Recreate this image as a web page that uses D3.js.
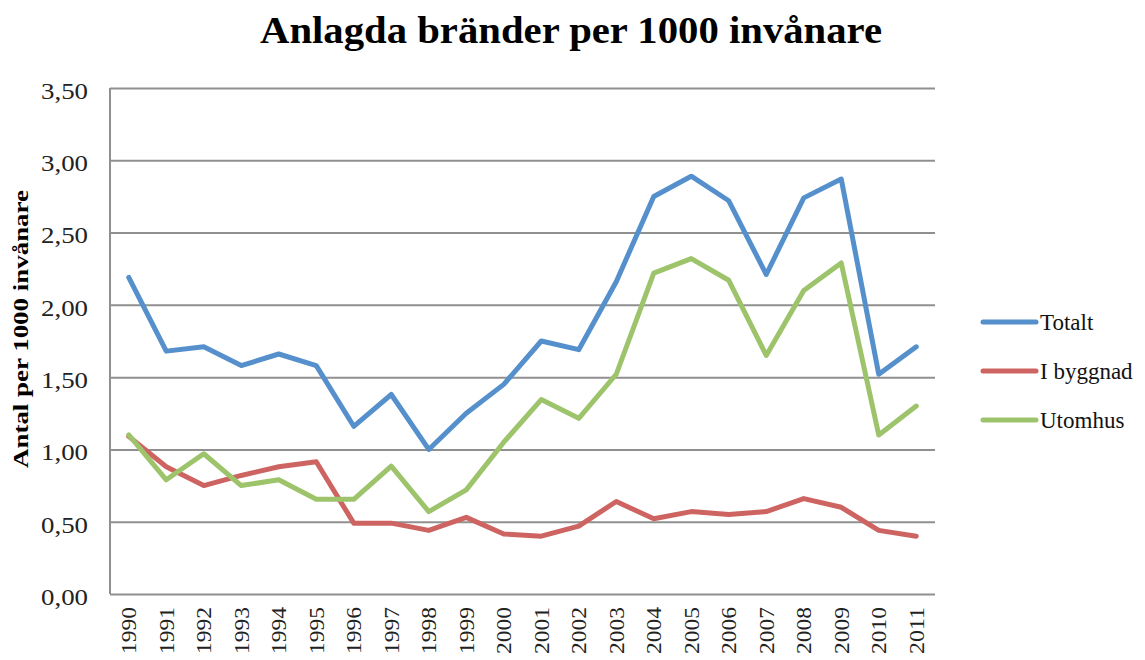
<!DOCTYPE html>
<html><head><meta charset="utf-8">
<script src="https://cdn.jsdelivr.net/npm/d3@7"></script>
<style>body{margin:0;background:#fff}svg{display:block}</style>
</head><body>
<svg id="c" width="1145" height="660"></svg>
<script>
const years = ["1990","1991","1992","1993","1994","1995","1996","1997","1998","1999","2000","2001","2002","2003","2004","2005","2006","2007","2008","2009","2010","2011"];
const totalt = [2.19,1.68,1.71,1.58,1.66,1.58,1.16,1.38,1.00,1.25,1.45,1.75,1.69,2.16,2.75,2.89,2.72,2.21,2.74,2.87,1.52,1.71];
const iByggnad = [1.09,0.88,0.75,0.82,0.88,0.915,0.49,0.49,0.44,0.53,0.415,0.40,0.47,0.64,0.52,0.57,0.55,0.57,0.66,0.60,0.44,0.40];
const utomhus = [1.10,0.79,0.97,0.75,0.79,0.655,0.655,0.885,0.57,0.72,1.05,1.345,1.215,1.52,2.22,2.32,2.17,1.65,2.10,2.29,1.10,1.30];
const yTicks = [0,0.5,1,1.5,2,2.5,3,3.5];
const seriesNames = ["Totalt","I byggnad","Utomhus"];
const seriesColors = ["#5590CC","#CE6461","#9DC36B"];
const seriesData = [totalt, iByggnad, utomhus];

const svg = d3.select("#c");
const L=110,R=935,T=88,B=594;
const font = "'Liberation Serif', 'DejaVu Serif', serif";
const x = d3.scaleBand().domain(years).range([L,R]);
const y = d3.scaleLinear().domain([0,3.5]).range([B,T]);

// title
svg.append("text").attr("x",571).attr("y",43).attr("text-anchor","middle")
  .attr("font-family",font).attr("font-weight","bold").attr("font-size",37)
  .attr("textLength",622).attr("lengthAdjust","spacingAndGlyphs")
  .attr("fill","#000").text("Anlagda bränder per 1000 invånare");

// gridlines
const yAxis = d3.axisLeft(y).tickValues(yTicks).tickSize(-(R-L)).tickPadding(22)
  .tickFormat(d=>d3.format(".2f")(d).replace(".",","));
const gy = svg.append("g").attr("transform",`translate(${L},0)`).call(yAxis);
gy.select(".domain").remove();
gy.selectAll(".tick line").attr("stroke","#909090").attr("stroke-width",2);
gy.selectAll(".tick text").attr("font-family",font).attr("font-size",23).attr("fill","#222")
  .attr("dy","0.45em").attr("textLength",47).attr("lengthAdjust","spacingAndGlyphs");

// left axis line
svg.append("line").attr("x1",L).attr("x2",L).attr("y1",T).attr("y2",B)
  .attr("stroke","#909090").attr("stroke-width",2);

// x axis
const xAxis = d3.axisBottom(x).tickSize(0).tickPadding(0);
const gx = svg.append("g").attr("transform",`translate(0,${B})`).call(xAxis);
gx.select(".domain").remove();
gx.selectAll(".tick text").attr("font-family",font).attr("font-size",21).attr("fill","#222")
  .attr("transform","rotate(-90)").attr("text-anchor","end").attr("dy","0.35em")
  .attr("x",-13).attr("y",0).attr("textLength",47).attr("lengthAdjust","spacingAndGlyphs");

// y axis title
svg.append("text").attr("transform","translate(28,329) rotate(-90)").attr("text-anchor","middle")
  .attr("font-family",font).attr("font-weight","bold").attr("font-size",22)
  .attr("textLength",278).attr("lengthAdjust","spacingAndGlyphs")
  .text("Antal per 1000 invånare");

// lines
const line = d3.line().x((d,i)=>x(years[i])+x.bandwidth()/2).y(d=>y(d));
seriesData.forEach((s,k)=>{
  svg.append("path").datum(s).attr("d",line).attr("fill","none")
    .attr("stroke",seriesColors[k]).attr("stroke-width",5)
    .attr("stroke-linejoin","round").attr("stroke-linecap","round");
});

// legend
const legY = [322,371,420];
seriesNames.forEach((n,k)=>{
  svg.append("line").attr("x1",983).attr("x2",1036).attr("y1",legY[k]).attr("y2",legY[k])
    .attr("stroke",seriesColors[k]).attr("stroke-width",5).attr("stroke-linecap","round");
  svg.append("text").attr("x",1040).attr("y",legY[k]).attr("dy","0.35em")
    .attr("font-family",font).attr("font-size",23).attr("fill","#111").text(n);
});
</script>
</body></html>
